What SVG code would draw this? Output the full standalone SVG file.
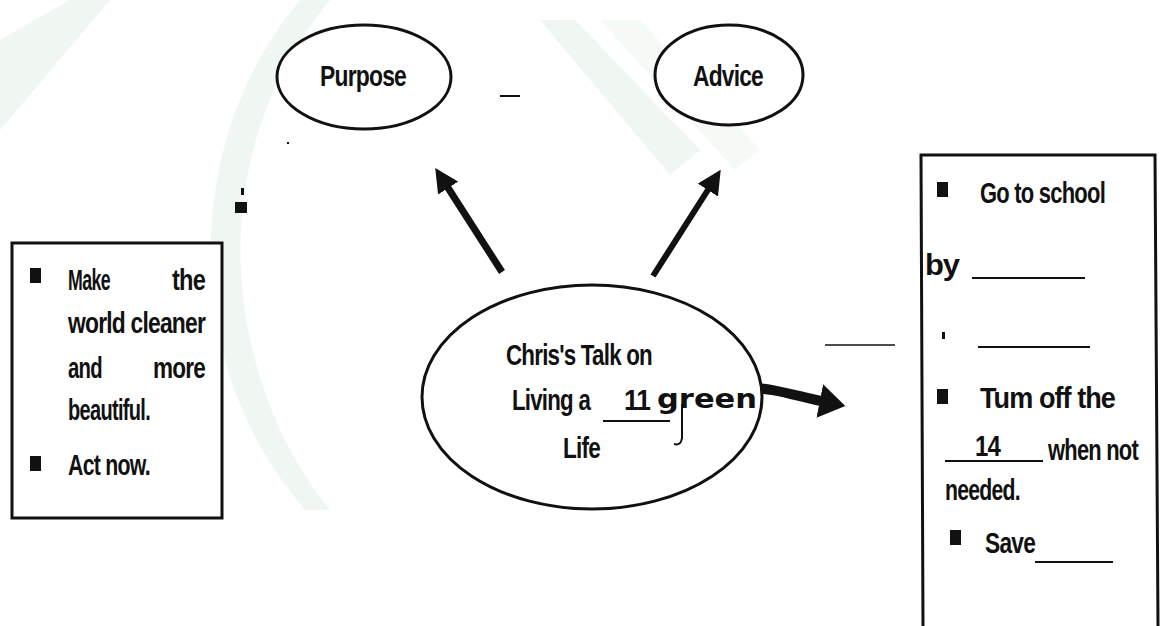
<svg xmlns="http://www.w3.org/2000/svg" width="1164" height="626" viewBox="0 0 1164 626">
<style>
.t{font-family:"Liberation Sans",Arial,sans-serif;font-weight:bold;font-size:29px;fill:#111;letter-spacing:-1px}
.n{fill:#fff;stroke:#111;stroke-width:3}
.b{fill:#111}
.u{stroke:#111;stroke-width:2;fill:none}
.wm{fill:#f0f6f2}
</style>
<defs>
<marker id="ah" viewBox="0 0 10 10" refX="4" refY="5" markerWidth="24" markerHeight="24" markerUnits="userSpaceOnUse" orient="auto"><path d="M0,0 L10,5 L0,10 z" fill="#111"/></marker>
<marker id="ah2" viewBox="0 0 10 10" refX="4" refY="5" markerWidth="26" markerHeight="34" markerUnits="userSpaceOnUse" orient="auto" preserveAspectRatio="none"><path d="M0,0 L10,5 L0,10 z" fill="#111"/></marker>
</defs>
<rect width="1164" height="626" fill="#fff"/>
<g id="watermark">
<path class="wm" d="M330,0 C255,90 225,210 248,330 C262,400 290,460 330,510 L305,510 C262,460 232,400 218,330 C196,210 225,90 300,0 z"/>
<path class="wm" d="M0,40 L70,0 L110,0 L0,130 z"/>
<path class="wm" d="M540,20 L575,20 L700,150 L670,175 z"/>
<path class="wm" d="M600,20 L640,20 L760,150 L735,170 z" opacity="0.6"/>
</g>
<g id="connectors">
<line x1="502" y1="272" x2="443" y2="180" stroke="#111" stroke-width="7" marker-end="url(#ah)"/>
<line x1="653" y1="276" x2="713" y2="182" stroke="#111" stroke-width="6" marker-end="url(#ah)"/>
<path d="M750,388 C775,388 795,396 830,403" stroke="#111" stroke-width="10" fill="none" marker-end="url(#ah2)"/>
</g>
<g id="purpose">
<ellipse class="n" cx="364" cy="77" rx="87" ry="52"/>
<text class="t" x="320" y="86" textLength="86" lengthAdjust="spacingAndGlyphs">Purpose</text>
</g>
<g id="advice">
<ellipse class="n" cx="729" cy="75" rx="74" ry="50"/>
<text class="t" x="693" y="86" textLength="70" lengthAdjust="spacingAndGlyphs">Advice</text>
</g>
<g id="center">
<ellipse class="n" cx="592" cy="397" rx="170" ry="112"/>
<text class="t" x="506" y="365" textLength="146" lengthAdjust="spacingAndGlyphs">Chris's Talk on</text>
<text class="t" x="512" y="410" textLength="78" lengthAdjust="spacingAndGlyphs">Living a</text>
<text class="t" x="624" y="410" textLength="26" lengthAdjust="spacingAndGlyphs">11</text>
<line class="u" x1="603" y1="421" x2="670" y2="421"/>
<text x="657" y="408" font-family="'DejaVu Sans',sans-serif" font-size="26" font-weight="bold" fill="#111" textLength="100" lengthAdjust="spacingAndGlyphs">green</text>
<path class="u" d="M682,404 L682,438 Q681,446 674,444" stroke-width="3"/>
<text class="t" x="563" y="458" textLength="37" lengthAdjust="spacingAndGlyphs">Life</text>
</g>
<g id="purpose-box">
<rect class="n" x="12" y="243" width="210" height="275"/>
<rect class="b" x="30" y="268" width="11" height="15"/>
<text class="t" x="68" y="290" textLength="42" lengthAdjust="spacingAndGlyphs">Make</text>
<text class="t" x="172" y="290" textLength="33" lengthAdjust="spacingAndGlyphs">the</text>
<text class="t" x="68" y="333" textLength="137" lengthAdjust="spacingAndGlyphs">world cleaner</text>
<text class="t" x="68" y="378" textLength="34" lengthAdjust="spacingAndGlyphs">and</text>
<text class="t" x="153" y="378" textLength="52" lengthAdjust="spacingAndGlyphs">more</text>
<text class="t" x="68" y="420" textLength="82" lengthAdjust="spacingAndGlyphs">beautiful.</text>
<rect class="b" x="30" y="456" width="11" height="15"/>
<text class="t" x="68" y="475" textLength="82" lengthAdjust="spacingAndGlyphs">Act now.</text>
</g>
<g id="advice-box">
<path class="n" d="M923,626 L921,155 L1155,155 L1158,626"/>
<rect class="b" x="937" y="182" width="11" height="15"/>
<text class="t" x="980" y="203" textLength="125" lengthAdjust="spacingAndGlyphs">Go to school</text>
<text class="t" x="925" y="275" textLength="34" lengthAdjust="spacingAndGlyphs">by</text>
<line class="u" x1="972" y1="278" x2="1085" y2="278"/>
<rect class="b" x="942" y="332" width="3" height="7"/>
<line class="u" x1="978" y1="347" x2="1090" y2="347"/>
<rect class="b" x="937" y="389" width="11" height="15"/>
<text class="t" x="980" y="408" textLength="135" lengthAdjust="spacingAndGlyphs">Tum off the</text>
<text class="t" x="975" y="456" textLength="25" lengthAdjust="spacingAndGlyphs">14</text>
<line class="u" x1="945" y1="461" x2="1043" y2="461"/>
<text class="t" x="1048" y="460" font-size="27" textLength="90" lengthAdjust="spacingAndGlyphs">when not</text>
<text class="t" x="945" y="500" textLength="75" lengthAdjust="spacingAndGlyphs">needed.</text>
<rect class="b" x="950" y="530" width="11" height="15"/>
<text class="t" x="985" y="553" textLength="50" lengthAdjust="spacingAndGlyphs">Save</text>
<line class="u" x1="1035" y1="562" x2="1113" y2="562"/>
</g>
<g id="marks">
<line class="u" x1="500" y1="96" x2="520" y2="96"/>
<line x1="825" y1="345" x2="895" y2="345" stroke="#111" stroke-width="1.5"/>
<rect class="b" x="287" y="142" width="2" height="2"/>
<rect class="b" x="235" y="202" width="12" height="11"/>
<rect class="b" x="241" y="188" width="3" height="7"/>
</g>
</svg>
